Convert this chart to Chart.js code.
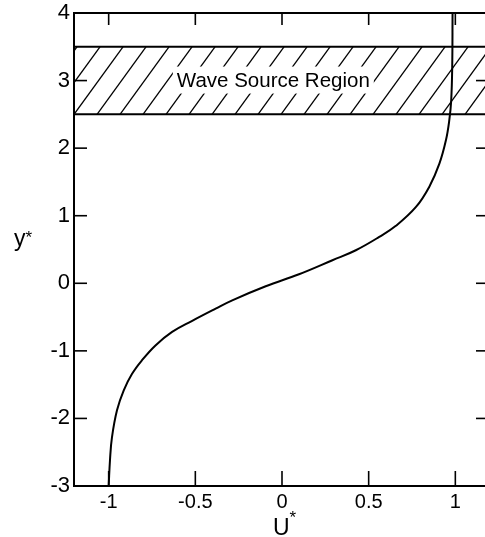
<!DOCTYPE html>
<html>
<head>
<meta charset="utf-8">
<script src="https://cdn.jsdelivr.net/npm/chart.js@4.4.0/dist/chart.umd.min.js"></script>
<style>
  html, body { margin:0; padding:0; background:#fff; overflow:hidden; }
  #wrap { position:absolute; left:0; top:0; width:500px; height:537px; }
</style>
</head>
<body>
<div id="wrap"><canvas id="c" width="500" height="537"></canvas></div>
<script>
// data
const profileU = [-1.0, -0.992, -0.981, -0.952, -0.913, -0.865, -0.808, -0.73, -0.634, -0.518, -0.383, -0.287, -0.094,
                  0.098, 0.291, 0.426, 0.561, 0.657, 0.773, 0.85, 0.908, 0.946, 0.965, 0.976, 0.982, 0.984];
const profileY = [-3.0, -2.6, -2.28, -1.88, -1.585, -1.34, -1.14, -0.92, -0.72, -0.555, -0.375, -0.252, -0.044,
                  0.133, 0.341, 0.489, 0.686, 0.85, 1.13, 1.43, 1.77, 2.12, 2.41, 2.7, 3.2, 4.0];
const xTicks = [-1, -0.5, 0, 0.5, 1];
const xTickLabels = ['-1', '-0.5', '0', '0.5', '1'];
const yTicks = [-3, -2, -1, 0, 1, 2, 3, 4];
const yTickLabels = ['-3', '-2', '-1', '0', '1', '2', '3', '4'];
const bandLow = 2.5, bandHigh = 3.5;
const bandLabel = 'Wave Source Region';
const xTitle = 'U', yTitle = 'y';

const FONT = '"Liberation Sans", Arial, sans-serif';

// hatched band, frame and inward ticks
const figPlugin = {
  id: 'fig',
  beforeDatasetsDraw(chart) {
    const ctx = chart.ctx, a = chart.chartArea;
    const xs = chart.scales.x, ys = chart.scales.y;
    const yTop = ys.getPixelForValue(bandHigh), yBot = ys.getPixelForValue(bandLow);
    ctx.save();
    ctx.beginPath();
    ctx.rect(a.left, yTop, a.right - a.left, yBot - yTop);
    ctx.clip();
    ctx.strokeStyle = '#000';
    ctx.lineWidth = 1.3;
    const lean = (yBot - yTop) / 1.38;
    for (let x0 = a.left - lean; x0 < a.right + 30; x0 += 23) {
      ctx.beginPath();
      ctx.moveTo(x0 + 3, yBot);
      ctx.lineTo(x0 + 3 + lean, yTop);
      ctx.stroke();
    }
    ctx.restore();

    // label with white backing
    ctx.save();
    ctx.font = '20.5px ' + FONT;
    const cx = xs.getPixelForValue(-0.05), cy = ys.getPixelForValue(3.0);
    const w = ctx.measureText(bandLabel).width;
    ctx.fillStyle = '#fff';
    ctx.fillRect(cx - w / 2 - 4, cy - 14, w + 8, 27);
    ctx.fillStyle = '#000';
    ctx.textAlign = 'center';
    ctx.textBaseline = 'middle';
    ctx.fillText(bandLabel, cx, cy + 1);
    ctx.restore();

    // band edges
    ctx.save();
    ctx.strokeStyle = '#000';
    ctx.lineWidth = 2;
    [yTop, yBot].forEach(function (py) {
      ctx.beginPath();
      ctx.moveTo(a.left, py);
      ctx.lineTo(a.right, py);
      ctx.stroke();
    });
    ctx.restore();
  },
  afterDraw(chart) {
    const ctx = chart.ctx, a = chart.chartArea;
    const xs = chart.scales.x, ys = chart.scales.y;
    ctx.save();
    ctx.strokeStyle = '#000';
    ctx.lineWidth = 2;
    ctx.strokeRect(a.left, a.top, a.right - a.left, a.bottom - a.top);
    ctx.lineWidth = 1.6;
    xTicks.forEach(function (v) {
      const px = xs.getPixelForValue(v);
      ctx.beginPath(); ctx.moveTo(px, a.bottom); ctx.lineTo(px, a.bottom - 15); ctx.stroke();
      ctx.beginPath(); ctx.moveTo(px, a.top); ctx.lineTo(px, a.top + 12); ctx.stroke();
    });
    yTicks.forEach(function (v) {
      if (v === -3 || v === 4) return;
      const py = ys.getPixelForValue(v);
      ctx.beginPath(); ctx.moveTo(a.left, py); ctx.lineTo(a.left + 13, py); ctx.stroke();
      ctx.beginPath(); ctx.moveTo(a.right, py); ctx.lineTo(a.right - 14, py); ctx.stroke();
    });
    // axis titles with superscript star
    ctx.fillStyle = '#000';
    ctx.textBaseline = 'alphabetic';
    ctx.font = '23px ' + FONT;
    const ux = xs.getPixelForValue(0) - 9;
    ctx.fillText(xTitle, ux, 535);
    const uw = ctx.measureText(xTitle).width;
    ctx.font = '17px ' + FONT;
    ctx.fillText('*', ux + uw, 523);
    ctx.font = '23px ' + FONT;
    ctx.fillText(yTitle, 14, 246);
    const yw = ctx.measureText(yTitle).width;
    ctx.font = '17px ' + FONT;
    ctx.fillText('*', 14 + yw, 243);
    ctx.restore();
  }
};

const curve = profileU.map(function (u, i) { return { x: u, y: profileY[i] }; });

new Chart(document.getElementById('c'), {
  type: 'line',
  data: {
    datasets: [{
      data: curve,
      borderColor: '#000',
      borderWidth: 2,
      pointRadius: 0,
      tension: 0.4,
      fill: false
    }]
  },
  options: {
    responsive: false,
    animation: false,
    layout: { padding: { top: 13, right: 10, left: 0, bottom: 0 } },
    plugins: { legend: { display: false }, tooltip: { enabled: false } },
    scales: {
      x: {
        type: 'linear', position: 'bottom', min: -1.2, max: 1.2,
        afterBuildTicks: function (s) { s.ticks = xTicks.map(function (v) { return { value: v }; }); },
        afterFit: function (s) { s.height = 51; },
        grid: { display: false },
        border: { display: false },
        ticks: {
          color: '#000', padding: -4, maxRotation: 0,
          font: { family: FONT, size: 20 },
          callback: function (v) { return xTickLabels[xTicks.indexOf(v)]; }
        }
      },
      y: {
        type: 'linear', position: 'left', min: -3, max: 4,
        afterBuildTicks: function (s) { s.ticks = yTicks.map(function (v) { return { value: v }; }); },
        afterFit: function (s) { s.width = 74; },
        grid: { display: false },
        border: { display: false },
        ticks: {
          color: '#000', padding: -4,
          font: { family: FONT, size: 22 },
          callback: function (v) { return yTickLabels[yTicks.indexOf(v)]; }
        }
      }
    }
  },
  plugins: [figPlugin]
});
</script>
</body>
</html>
